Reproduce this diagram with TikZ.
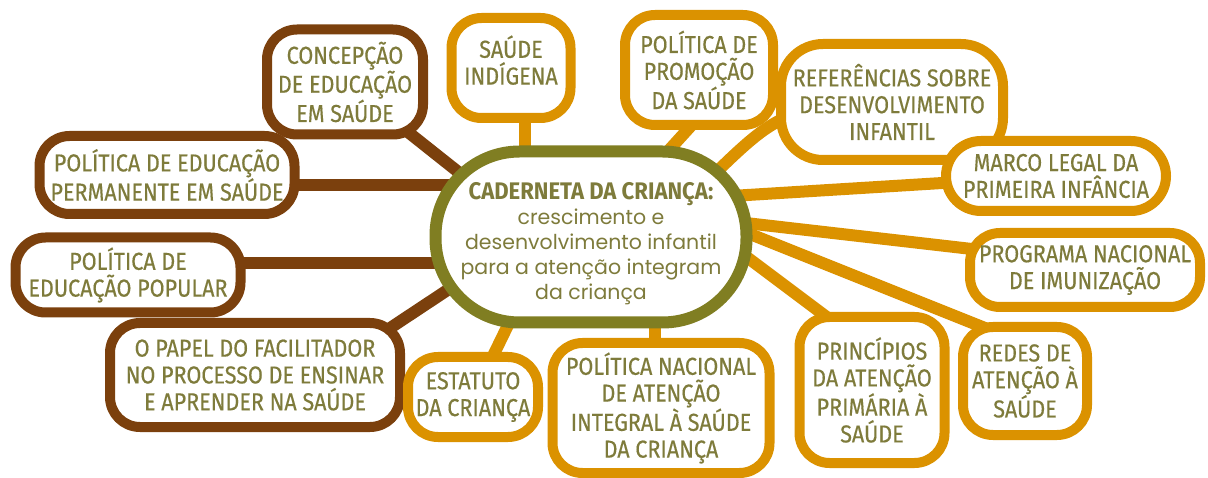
\documentclass[tikz,border=0pt]{standalone}
\usepackage{fontspec}
\setmainfont{Fira Sans}
\newfontfamily\capfont{Fira Sans}[FakeStretch=0.88,FakeBold=0.4]
\newfontfamily\headfont{Fira Sans}[FakeStretch=0.92]
\newfontfamily\bodyfont{Poppins}
\usetikzlibrary{backgrounds}
\definecolor{brn}{HTML}{7B400D}
\definecolor{org}{HTML}{DB9200}
\definecolor{olv}{HTML}{807E22}
\definecolor{txt}{HTML}{7E7B3B}
\tikzset{
  box/.style={rectangle, rounded corners=30pt, line width=10pt, fill=white,
    inner sep=0pt, align=center, text=txt,
    font=\capfont\fontsize{24.5}{26.8}\selectfont},
  bbox/.style={box, draw=brn},
  obox/.style={box, draw=org},
  blink/.style={draw=brn, line width=12pt},
  olink/.style={draw=org, line width=12pt},
  hub/.style={rectangle, rounded corners=84pt, draw=olv, line width=12pt,
    fill=white, inner sep=0pt, align=center, text=txt,
    font=\bodyfont\fontsize{20.5}{25}\selectfont}
}
\begin{document}
\begin{tikzpicture}[x=1pt,y=-1pt]
\useasboundingbox (0,0) rectangle (1208,478);
% hub
\node[hub, minimum width=311pt, minimum height=171pt] (c) at (591,237)
  {\rule{0pt}{30pt}{\headfont\bfseries\fontsize{24}{25}\selectfont CADERNETA DA CRIANÇA:}\\
   crescimento e\\ desenvolvimento infantil\\ para a atenção integram\\ da criança};
% brown nodes
\node[bbox, minimum width=156pt, minimum height=105pt] (n2) at (345,82)
  {CONCEPÇÃO\\ DE EDUCAÇÃO\\ EM SAÚDE};
\node[bbox, minimum width=255pt, minimum height=78pt] (n3) at (167,175)
  {POLÍTICA DE EDUCAÇÃO\\ PERMANENTE EM SAÚDE};
\node[bbox, minimum width=225pt, minimum height=75pt] (n4) at (128,275)
  {POLÍTICA DE\\ EDUCAÇÃO POPULAR};
\node[bbox, minimum width=290pt, minimum height=104pt] (n5) at (255,375)
  {O PAPEL DO FACILITADOR\\ NO PROCESSO DE ENSINAR\\ E APRENDER NA SAÚDE};
% orange nodes
\node[obox, minimum width=119pt, minimum height=100pt] (n6) at (511,68)
  {SAÚDE\\ INDÍGENA\rule[-16pt]{0pt}{16pt}};
\node[obox, minimum width=148pt, minimum height=110pt] (n7) at (699,70)
  {POLÍTICA DE\\ PROMOÇÃO\\ DA SAÚDE};
\node[obox, rounded corners=42pt, minimum width=222pt, minimum height=116pt] (n8) at (892,102)
  {REFERÊNCIAS SOBRE\\ DESENVOLVIMENTO\\ INFANTIL};
\node[obox, rounded corners=35pt, minimum width=220pt, minimum height=70pt] (n9) at (1056,176)
  {MARCO LEGAL DA\\ PRIMEIRA INFÂNCIA};
\node[obox, minimum width=230pt, minimum height=74pt] (n10) at (1085,270)
  {PROGRAMA NACIONAL\\ DE IMUNIZAÇÃO};
\node[obox, minimum width=124pt, minimum height=108pt] (n11) at (1025,381)
  {REDES DE\\ ATENÇÃO À\\ SAÚDE};
\node[obox, minimum width=145pt, minimum height=146pt] (n12) at (872,390)
  {PRINCÍPIOS\\ DA ATENÇÃO\\ PRIMÁRIA À\\ SAÚDE};
\node[obox, minimum width=217pt, minimum height=130pt] (n13) at (661,408)
  {POLÍTICA NACIONAL\\ DE ATENÇÃO\\ INTEGRAL À SAÚDE\\ DA CRIANÇA};
\node[obox, minimum width=130pt, minimum height=80pt] (n14) at (473,397)
  {ESTATUTO\\ DA CRIANÇA};
% connectors
\begin{scope}[on background layer]
\draw[blink] ([xshift=-71pt,yshift=16pt]c.center) -- (n2.center);
\draw[blink] ([yshift=52pt]c.center) -- ([yshift=-10pt]n3.center);
\draw[blink] ([yshift=-26pt]c.center) -- ([yshift=12pt]n4.center);
\draw[blink] ([xshift=-71pt,yshift=-5pt]c.center) -- ([xshift=105pt,yshift=27pt]n5.center);
\draw[olink] ([xshift=-66pt]c.center) -- ([xshift=14pt]n6.center);
\draw[olink] ([xshift=49pt,yshift=55pt]c.center) -- ([xshift=11pt,yshift=-35pt]n7.center);
\draw[olink] ([xshift=99pt,yshift=39pt]c.center) .. controls ([xshift=-120pt,yshift=-15pt]n8.center) .. ([xshift=-41pt,yshift=2pt]n8.center);
\draw[olink] ([xshift=59pt,yshift=36pt]c.center) -- (n9.center);
\draw[olink] ([xshift=59pt,yshift=25pt]c.center) -- ([yshift=8pt]n10.center);
\draw[olink] ([xshift=59pt,yshift=43pt]c.center) -- ([xshift=-5pt,yshift=39pt]n11.center);
\draw[olink] ([xshift=89pt,yshift=30pt]c.center) -- ([xshift=-12pt,yshift=48pt]n12.center);
\draw[olink] ([xshift=64pt]c.center) -- ([xshift=-6pt]n13.center);
\draw[olink] ([xshift=-61pt,yshift=-43pt]c.center) -- (n14.center);
\end{scope}
\end{tikzpicture}
\end{document}
